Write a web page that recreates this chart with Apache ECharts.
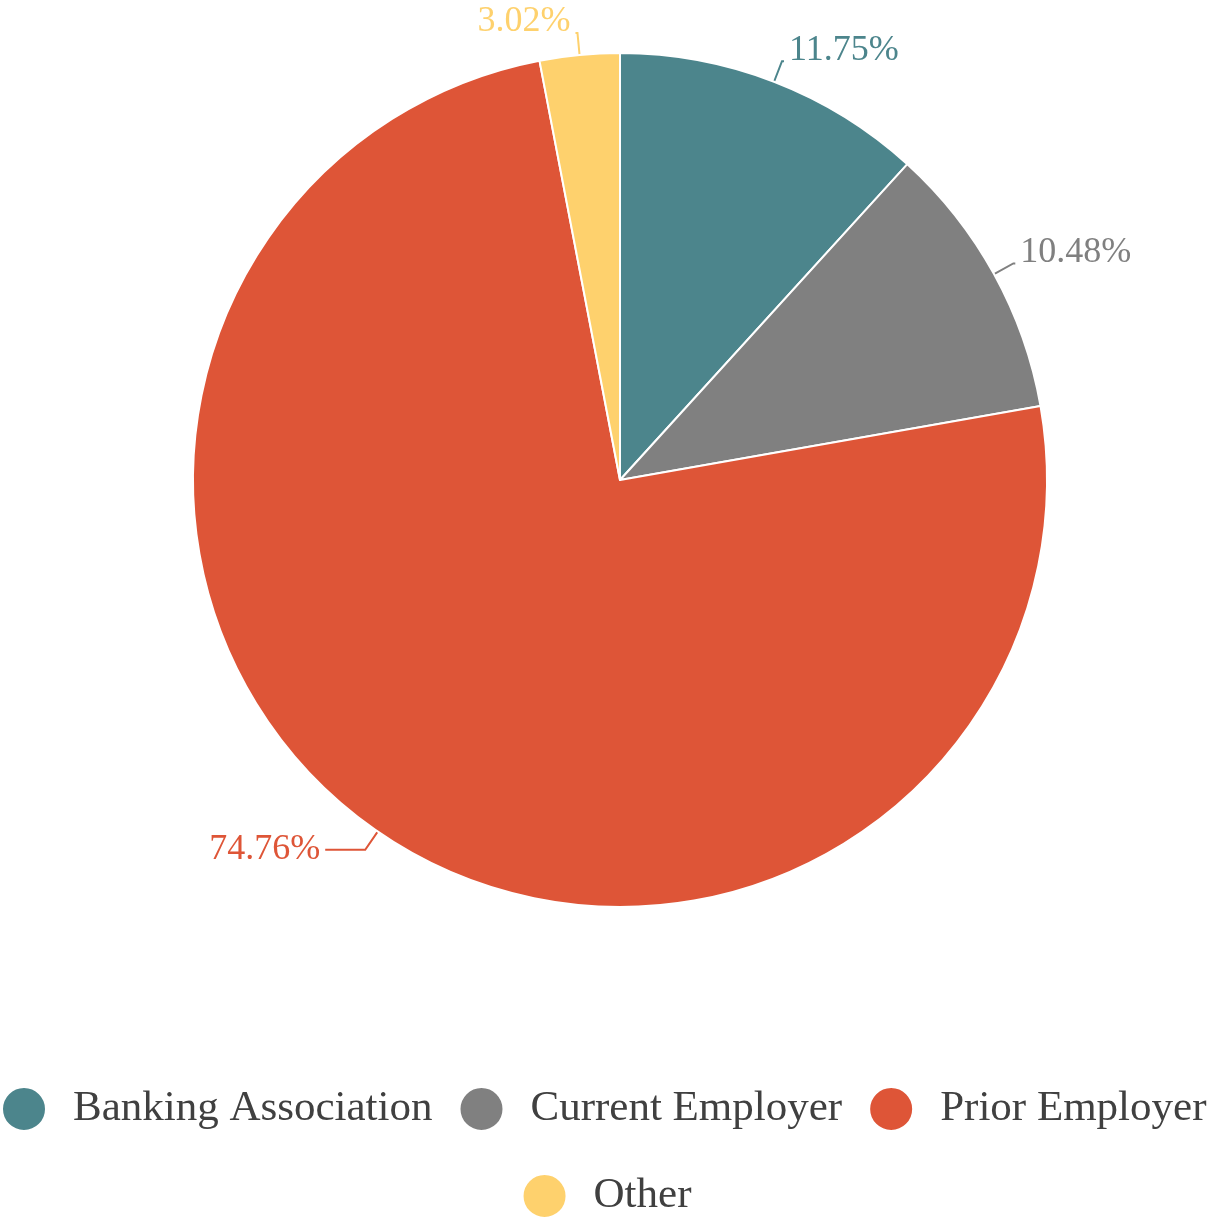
<!DOCTYPE html>
<html>
<head>
<meta charset="utf-8">
<script src="https://cdn.jsdelivr.net/npm/echarts@6/dist/echarts.min.js"></script>
<style>
  html, body { margin: 0; padding: 0; background: #fff; }
  #chart { width: 1213px; height: 1224px; }
</style>
</head>
<body>
<div id="chart"></div>
<script>
var categories = ['Banking Association', 'Current Employer', 'Prior Employer', 'Other'];
var shares = [11.75, 10.48, 74.76, 3.02];
var colors = ['#4c858c', '#808080', '#de5537', '#fed16d'];

(function(){
  var myChart = echarts.init(document.getElementById('chart'));
  var serif = '"Liberation Serif", "DejaVu Serif", serif';

  // 第二段引导线长度（74.76% 的标签离得更远）
  var line2 = [2, 2, 40, 2];
  // 上半部分的标签略微抬高（多加一行空白）
  var lift = [true, true, false, true];

  var data = categories.map(function(name, i){
    return {
      name: name,
      value: shares[i],
      label: { color: colors[i] },
      labelLine: { length2: line2[i], lineStyle: { color: colors[i] } }
    };
  });

  var legendText = {
    fontFamily: serif,
    fontSize: 43,
    color: '#404040',
    padding: [0, 0, 0, 22]
  };

  var option = {
    color: colors,
    // 图例分两行，第二行居中
    legend: [
      {
        top: 1086,
        left: 1,
        width: 1300,
        padding: 0,
        icon: 'circle',
        itemWidth: 44,
        itemHeight: 44,
        itemGap: 26,
        textStyle: legendText,
        data: categories.slice(0, 3)
      },
      {
        top: 1173,
        left: 'center',
        padding: 0,
        icon: 'circle',
        itemWidth: 44,
        itemHeight: 44,
        textStyle: legendText,
        data: categories.slice(3)
      }
    ],
    series: [
      {
        type: 'pie',
        center: [620, 480],
        radius: 427,
        startAngle: 90,
        clockwise: true,
        avoidLabelOverlap: false,
        itemStyle: {
          borderColor: '#fff',
          borderWidth: 2
        },
        label: {
          show: true,
          formatter: function(p){
            var t = '{v|' + p.value.toFixed(2) + '%}';
            return lift[p.dataIndex] ? t + '\n{g|\u00a0}' : t;
          },
          fontFamily: serif,
          fontSize: 36,
          rich: {
            v: { fontFamily: serif, fontSize: 36, lineHeight: 36 },
            g: { fontSize: 10, lineHeight: 22 }
          }
        },
        labelLine: {
          length: 22,
          lineStyle: { width: 2 }
        },
        data: data
      }
    ]
  };

  myChart.setOption(option);
  window.addEventListener('resize', function(){
    myChart.resize();
  });
})();
</script>
</body>
</html>
